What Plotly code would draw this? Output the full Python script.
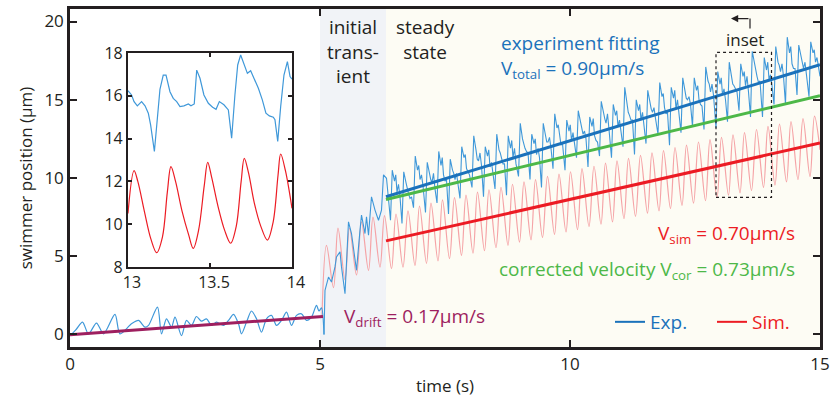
import plotly.graph_objects as go

# ---------------- data ----------------
# experiment, drift phase (0-5 s)
drift_t = [0.00, 0.03, 0.13, 0.25, 0.37, 0.53, 0.67, 0.90, 1.00, 1.23, 1.37, 1.50, 1.57, 1.75, 1.83,
           1.93, 2.03, 2.10, 2.23, 2.33, 2.43, 2.53, 2.63, 2.73, 2.83, 2.93, 3.07, 3.17, 3.27, 3.37,
           3.43, 3.53, 3.63, 3.73, 3.83, 3.93, 4.03, 4.13, 4.23, 4.33, 4.43, 4.53, 4.63, 4.73, 4.83,
           4.93, 4.98, 5.03, 5.08]
drift_v = [0.05, 0.04, 0.35, 0.79, 0.04, 0.73, 0.04, 1.28, 0.04, 0.68, 0.90, 0.47, 0.58, 1.75, 0.04,
           1.00, 0.47, 1.11, -0.07, 0.90, 0.58, 1.15, 0.85, 1.00, 0.58, 0.79, 0.58, 0.90, 1.28, 0.68,
           0.04, 0.79, 1.50, 1.00, 0.15, 1.00, 1.22, 0.58, 0.90, 1.43, 0.58, 1.22, 1.32, 0.90, 1.11,
           1.86, 1.50, 1.70, 0.00]

# experiment, transient + steady state
exp_t = [5.08, 5.10, 5.17, 5.23, 5.30, 5.33, 5.40, 5.43, 5.50, 5.57, 5.63, 5.70, 5.73, 5.80, 5.83,
         5.90, 5.93, 5.97, 6.03, 6.10, 6.17, 6.23, 6.27, 6.33,
         6.41, 6.445, 6.49, 6.515, 6.54, 6.57, 6.60,
         6.64, 6.675, 6.72, 6.745, 6.77, 6.80, 6.83,
         6.87, 6.905, 6.95, 6.975, 7.00, 7.03, 7.06,
         7.11, 7.145, 7.19, 7.215, 7.24, 7.27, 7.30,
         7.34, 7.375, 7.42, 7.445, 7.47, 7.50, 7.53,
         7.57, 7.605, 7.65, 7.675, 7.70, 7.73, 7.76,
         7.80, 7.835, 7.88, 7.905, 7.93, 7.96, 7.99,
         8.04, 8.075, 8.12, 8.145, 8.17, 8.20, 8.23,
         8.27, 8.305, 8.35, 8.375, 8.40, 8.43, 8.46,
         8.50, 8.535, 8.58, 8.605, 8.63, 8.66, 8.69,
         8.73, 8.765, 8.81, 8.835, 8.86, 8.89, 8.92,
         8.97, 9.005, 9.05, 9.075, 9.10, 9.13, 9.16,
         9.20, 9.235, 9.28, 9.305, 9.33, 9.36, 9.39,
         9.43, 9.465, 9.51, 9.535, 9.56, 9.59, 9.62,
         9.66, 9.695, 9.74, 9.765, 9.79, 9.82, 9.85,
         9.90, 9.935, 9.98, 10.005, 10.03, 10.06, 10.09,
         10.13, 10.165, 10.21, 10.235, 10.26, 10.29, 10.32,
         10.36, 10.395, 10.44, 10.465, 10.49, 10.52, 10.55,
         10.59, 10.625, 10.67, 10.695, 10.72, 10.75, 10.78,
         10.83, 10.865, 10.91, 10.935, 10.96, 10.99, 11.02,
         11.06, 11.095, 11.14, 11.165, 11.19, 11.22, 11.25,
         11.29, 11.325, 11.37, 11.395, 11.42, 11.45, 11.48,
         11.52, 11.555, 11.60, 11.625, 11.65, 11.68, 11.71,
         11.76, 11.795, 11.84, 11.865, 11.89, 11.92, 11.95,
         11.99, 12.025, 12.07, 12.095, 12.12, 12.15, 12.18,
         12.22, 12.255, 12.30, 12.325, 12.35, 12.38, 12.41,
         12.45, 12.485, 12.53, 12.555, 12.58, 12.61, 12.64,
         12.68, 12.715, 12.76, 12.785, 12.81, 12.84, 12.87,
         12.92, 12.955, 13.00, 13.025, 13.05, 13.08, 13.11,
         13.15, 13.185, 13.23, 13.255, 13.28, 13.31, 13.34,
         13.38, 13.415, 13.46, 13.485, 13.51, 13.54, 13.57,
         13.61, 13.645, 13.69, 13.715, 13.74, 13.77, 13.80,
         13.85, 13.885, 13.93, 13.955, 13.98, 14.01, 14.04,
         14.08, 14.115, 14.16, 14.185, 14.21, 14.24, 14.27,
         14.31, 14.345, 14.39, 14.415, 14.44, 14.47, 14.50,
         14.54, 14.575, 14.62, 14.645, 14.67, 14.70, 14.73,
         14.78, 14.815, 14.86, 14.885, 14.91, 14.94, 14.97,
         15.00]
exp_v = [0.00, 2.82, 3.67, 3.35, 4.32, 4.96, 5.28, 4.32, 2.60, 7.20, 6.45, 4.96, 4.10, 6.67, 7.63,
         6.45, 7.52, 6.35, 8.80, 7.95, 7.30, 7.95, 10.20, 9.98,
         7.3, 10.5, 9.8, 10.2, 9.1, 9.6, 8.8,
         7.1, 10.4, 9.7, 9.2, 9.0, 8.7, 8.8,
         8.1, 11.4, 10.5, 10.8, 9.9, 10.2, 9.5,
         7.8, 11.0, 10.2, 9.9, 9.7, 10.3, 9.3,
         8.4, 11.7, 10.8, 11.3, 10.2, 9.8, 9.9,
         7.7, 11.2, 10.5, 10.3, 9.9, 10.3, 9.6,
         8.7, 12.0, 11.3, 11.5, 10.6, 10.4, 10.2,
         9.4, 12.7, 11.8, 11.2, 11.1, 11.6, 10.8,
         8.8, 12.0, 11.4, 11.8, 10.7, 11.0, 10.4,
         9.3, 12.8, 11.8, 11.6, 11.3, 10.9, 10.9,
         8.9, 12.7, 11.9, 12.4, 11.3, 11.9, 10.9,
         10.1, 13.5, 12.5, 12.1, 11.9, 11.7, 11.6,
         9.9, 12.8, 12.2, 12.5, 11.5, 11.9, 11.3,
         9.4, 13.5, 12.8, 12.3, 12.3, 12.6, 11.9,
         10.6, 14.1, 13.2, 13.4, 12.6, 12.1, 12.2,
         10.5, 13.7, 13.0, 13.4, 12.4, 12.9, 12.1,
         11.3, 14.3, 13.5, 13.2, 12.8, 13.0, 12.5,
         10.7, 13.9, 13.3, 13.8, 12.7, 12.4, 12.3,
         11.4, 14.9, 14.0, 13.8, 13.5, 14.1, 13.1,
         11.3, 14.7, 14.0, 14.3, 13.3, 13.7, 13.1,
         12.0, 15.8, 14.7, 14.2, 14.0, 13.7, 13.7,
         11.5, 15.0, 14.3, 14.7, 13.7, 14.2, 13.3,
         12.2, 15.6, 14.7, 14.4, 14.2, 14.5, 13.8,
         12.8, 16.1, 15.2, 15.4, 14.5, 14.1, 14.2,
         12.1, 15.8, 15.1, 15.6, 14.4, 15.0, 14.1,
         12.9, 16.4, 15.5, 15.1, 15.0, 15.2, 14.7,
         13.3, 16.4, 15.6, 15.9, 15.0, 14.7, 14.6,
         13.1, 17.1, 16.2, 16.0, 15.5, 16.0, 15.3,
         13.2, 16.8, 16.0, 16.4, 15.3, 15.7, 15.0,
         13.6, 17.4, 16.5, 16.0, 15.9, 15.7, 15.5,
         14.3, 17.3, 16.5, 16.8, 15.9, 16.5, 15.5,
         13.9, 18.1, 17.2, 16.9, 16.5, 16.1, 16.2,
         13.9, 17.7, 16.9, 17.4, 16.3, 16.6, 15.9,
         14.7, 18.4, 17.4, 17.2, 16.8, 17.3, 16.5,
         14.7, 19.0, 18.0, 18.4, 17.3, 17.0, 17.0,
         15.3, 18.5, 17.7, 17.3, 17.0, 17.4, 16.7,
         15.2, 18.7, 18.0, 18.2, 17.4, 17.7, 17.0,
         16.5]

# simulation (peaks and troughs)
sim_t = [5.04, 5.13, 5.27, 5.36, 5.50, 5.59, 5.73, 5.83, 5.97, 6.06, 6.20, 6.29, 6.43, 6.52, 6.66,
         6.76, 6.90, 6.99, 7.13, 7.22, 7.36, 7.45, 7.59, 7.69, 7.83, 7.92, 8.06, 8.15, 8.29, 8.38,
         8.52, 8.62, 8.76, 8.85, 8.99, 9.08, 9.22, 9.31, 9.45, 9.55, 9.69, 9.78, 9.92, 10.01, 10.15,
         10.24, 10.38, 10.48, 10.62, 10.71, 10.85, 10.94, 11.08, 11.17, 11.31, 11.41, 11.55, 11.64,
         11.78, 11.87, 12.01, 12.10, 12.24, 12.33, 12.47, 12.57, 12.71, 12.80, 12.94, 13.03, 13.17,
         13.26, 13.40, 13.49, 13.63, 13.73, 13.87, 13.96, 14.10, 14.19, 14.33, 14.42, 14.56, 14.66,
         14.80, 14.89, 15.00]
sim_v = [1.2, 5.7, 3.0, 6.8, 3.5, 6.8, 3.8, 7.2, 4.1, 7.5, 4.3, 7.6, 4.2, 7.7, 4.3,
         7.9, 4.4, 8.2, 4.55, 8.4, 4.7, 8.6, 4.85, 8.75, 5.05, 8.9, 5.2, 9.1, 5.35, 9.25,
         5.55, 9.4, 5.7, 9.6, 5.9, 9.75, 6.05, 9.9, 6.2, 10.1, 6.4, 10.25, 6.55, 10.4, 6.7,
         10.6, 6.9, 10.75, 7.05, 10.95, 7.2, 11.1, 7.4, 11.25, 7.55, 11.45, 7.75, 11.6,
         7.9, 11.75, 8.05, 11.95, 8.25, 12.1, 8.4, 12.3, 8.55, 12.45, 8.75, 12.6, 8.9,
         12.75, 9.05, 12.9, 9.2, 13.1, 9.4, 13.3, 9.55, 13.45, 9.75, 13.6, 9.9, 13.8,
         10.1, 13.95, 11.8]

# fitted lines (end points)
fit_drift_t = [0.0, 5.06]
fit_drift_v = [-0.02, 1.15]
fit_total_t = [6.32, 15.0]
fit_total_v = [8.80, 17.24]
fit_cor_t = [6.32, 15.0]
fit_cor_v = [8.63, 15.26]
fit_sim_t = [6.32, 15.0]
fit_sim_v = [5.98, 12.24]

# inset (13-14 s)
inset_exp_t = [13.000, 13.022, 13.037, 13.057, 13.083, 13.104, 13.124, 13.138, 13.161, 13.175,
               13.195, 13.215, 13.232, 13.256, 13.276, 13.297, 13.317, 13.341, 13.368, 13.384,
               13.404, 13.419, 13.439, 13.463, 13.490, 13.516, 13.537, 13.557, 13.585, 13.612,
               13.632, 13.652, 13.669, 13.687, 13.707, 13.728, 13.748, 13.770, 13.795, 13.819,
               13.841, 13.862, 13.886, 13.896, 13.913, 13.931, 13.951, 13.972, 13.988, 14.000]
inset_exp_v = [16.24, 16.04, 15.73, 15.53, 15.73, 15.53, 15.19, 14.64, 13.40, 14.72,
               16.30, 16.97, 16.97, 16.19, 15.88, 15.73, 15.50, 15.53, 15.62, 15.53,
               15.62, 17.20, 16.82, 16.04, 15.65, 15.47, 15.37, 15.73, 15.58, 15.34,
               14.02, 16.04, 17.44, 17.91, 17.44, 17.05, 17.17, 16.82, 16.35, 15.81,
               15.19, 15.06, 15.00, 14.88, 13.87, 15.50, 16.97, 17.60, 16.90, 16.78]
inset_sim_t = [13.000, 13.037, 13.060, 13.100, 13.140, 13.175, 13.210, 13.240, 13.262, 13.290,
               13.330, 13.370, 13.398, 13.430, 13.465, 13.486, 13.510, 13.550, 13.590, 13.626,
               13.660, 13.690, 13.709, 13.735, 13.770, 13.810, 13.850, 13.885, 13.915, 13.931,
               13.960, 14.000]
inset_sim_v = [10.5, 12.5, 12.0, 10.6, 9.3, 8.67, 9.4, 11.5, 12.69, 12.0,
               10.6, 9.5, 8.87, 9.7, 11.8, 12.89, 12.2, 10.8, 9.7, 9.11,
               9.9, 12.0, 13.08, 12.4, 11.0, 9.9, 9.26, 10.1, 12.3, 13.28,
               12.5, 10.74]

x_ticks = [0, 5, 10, 15]
y_ticks = [0, 5, 10, 15, 20]
inset_x_ticks = [13, 13.5, 14]
inset_y_ticks = [8, 10, 12, 14, 16, 18]

# ---------------- styling ----------------
FONT = "Open Sans"
BLACK = "#231f20"
C_EXP = "#3f98d9"
C_SIMP = "#f5a3a6"
C_BLUE = "#1b72bb"
C_GREEN = "#4db848"
C_RED = "#ec1c24"
C_DRIFT = "#9e1f5f"

fig = go.Figure()

fig.add_trace(go.Scatter(x=sim_t, y=sim_v, mode="lines", line=dict(color=C_SIMP, width=1.2, shape="spline", smoothing=1.0),
                         showlegend=False, hoverinfo="skip"))
fig.add_trace(go.Scatter(x=drift_t, y=drift_v, mode="lines", line=dict(color=C_EXP, width=1.2, shape="spline", smoothing=0.8),
                         showlegend=False, hoverinfo="skip"))
fig.add_trace(go.Scatter(x=exp_t, y=exp_v, mode="lines", line=dict(color=C_EXP, width=1.1),
                         showlegend=False, hoverinfo="skip"))
fig.add_trace(go.Scatter(x=fit_drift_t, y=fit_drift_v, mode="lines", line=dict(color=C_DRIFT, width=3), showlegend=False))
fig.add_trace(go.Scatter(x=fit_total_t, y=fit_total_v, mode="lines", line=dict(color=C_BLUE, width=3), showlegend=False))
fig.add_trace(go.Scatter(x=fit_cor_t, y=fit_cor_v, mode="lines", line=dict(color=C_GREEN, width=3), showlegend=False))
fig.add_trace(go.Scatter(x=fit_sim_t, y=fit_sim_v, mode="lines", line=dict(color=C_RED, width=3), showlegend=False))

# legend entries
fig.add_trace(go.Scatter(x=[None], y=[None], mode="lines", line=dict(color=C_BLUE, width=2),
                         name=f'<span style="color:{C_BLUE}">Exp.</span>'))
fig.add_trace(go.Scatter(x=[None], y=[None], mode="lines", line=dict(color=C_RED, width=2),
                         name=f'<span style="color:{C_RED}">Sim.</span>'))

# inset traces
fig.add_trace(go.Scatter(x=inset_exp_t, y=inset_exp_v, xaxis="x2", yaxis="y2", mode="lines",
                         line=dict(color=C_EXP, width=1.2), showlegend=False))
fig.add_trace(go.Scatter(x=inset_sim_t, y=inset_sim_v, xaxis="x2", yaxis="y2", mode="lines",
                         line=dict(color=C_RED, width=1.2, shape="spline", smoothing=1.0), showlegend=False))

axis_common = dict(showline=True, linecolor=BLACK, linewidth=2.5, mirror="ticks", ticks="inside",
                   tickcolor=BLACK, tickwidth=2, ticklen=7, showgrid=False, zeroline=False, automargin=False,
                   tickfont=dict(family=FONT, size=17, color=BLACK))

fig.update_layout(
    width=831, height=401,
    margin=dict(l=70, r=11, t=9, b=54, autoexpand=False),
    paper_bgcolor="white", plot_bgcolor="white",
    font=dict(family=FONT, color=BLACK),
    xaxis=dict(range=[0, 15], tickvals=x_ticks, title=dict(text="time (s)", font=dict(family=FONT, size=17), standoff=6),
               **axis_common),
    yaxis=dict(range=[-0.8, 20.8], tickvals=y_ticks, title=dict(text="swimmer position (μm)", font=dict(family=FONT, size=17), standoff=8),
               **axis_common),
    xaxis2=dict(domain=[0.0773, 0.296], anchor="y2", range=[13, 14], tickvals=inset_x_ticks,
                ticktext=["13", "13.5", "14"], automargin=False, ticklabelshift=4,
                showline=True, linecolor=BLACK, linewidth=2, mirror="ticks", ticks="inside", tickcolor=BLACK,
                tickwidth=1.5, ticklen=4, showgrid=False, zeroline=False,
                tickfont=dict(family=FONT, size=16, color=BLACK)),
    yaxis2=dict(domain=[0.2367, 0.8698], anchor="x2", range=[8, 18], tickvals=inset_y_ticks, automargin=False,
                showline=True, linecolor=BLACK, linewidth=2, mirror="ticks", ticks="inside", tickcolor=BLACK,
                tickwidth=1.5, ticklen=4, showgrid=False, zeroline=False,
                tickfont=dict(family=FONT, size=16, color=BLACK)),
    legend=dict(orientation="h", x=0.72, xanchor="left", y=0.074, yanchor="middle",
                bgcolor="rgba(0,0,0,0)", font=dict(family=FONT, size=19), itemwidth=30,
                entrywidth=57, entrywidthmode="pixels", tracegroupgap=0),
)

# shaded regions
fig.add_shape(type="rect", xref="x", yref="paper", x0=5.0, x1=6.32, y0=0, y1=1,
              fillcolor="#f1f3f7", line=dict(width=0), layer="below")
fig.add_shape(type="rect", xref="x", yref="paper", x0=6.32, x1=15, y0=0, y1=1,
              fillcolor="#fdfcf4", line=dict(width=0), layer="below")
# dotted inset box
fig.add_shape(type="rect", xref="x", yref="y", x0=12.92, x1=14.03, y0=8.76, y1=18.03,
              line=dict(color=BLACK, width=1.2, dash="dot"))
# bracket arrow
fig.add_shape(type="line", xref="x", yref="y", x0=13.6, x1=13.6, y0=19.55, y1=20.19,
              line=dict(color=BLACK, width=1.2))
fig.add_annotation(x=13.22, y=20.19, ax=13.6, ay=20.19, axref="x", ayref="y", xref="x", yref="y",
                   text="", showarrow=True, arrowhead=2, arrowsize=1.2, arrowwidth=1.2, arrowcolor=BLACK)

def txt(x, y, s, color, xanchor="center", yanchor="middle", size=19, align="center", xref="x", yref="y"):
    fig.add_annotation(x=x, y=y, xref=xref, yref=yref, text=s, showarrow=False, xanchor=xanchor, yanchor=yanchor,
                       align=align, font=dict(family=FONT, size=size, color=color))

txt(5.66, 20.6, "initial<br>trans-<br>ient", BLACK, yanchor="top")
txt(7.1, 20.6, "steady<br>state", BLACK, yanchor="top")
txt(8.58, 18.65, "experiment fitting", C_BLUE, xanchor="left", align="left")
txt(8.58, 16.95, "V<sub>total</sub> = 0.90μm/s", C_BLUE, xanchor="left", align="left")
txt(14.54, 6.4, "V<sub>sim</sub> = 0.70μm/s", C_RED, xanchor="right", align="right")
txt(14.54, 4.1, "corrected velocity V<sub>cor</sub> = 0.73μm/s", C_GREEN, xanchor="right", align="right")
txt(5.44, 1.1, "V<sub>drift</sub> = 0.17μm/s", C_DRIFT, xanchor="left", align="left")
txt(13.5, 18.85, "inset", BLACK, size=17)
txt(13.97, 18.5, "inset", BLACK, xanchor="right", size=17, xref="x2", yref="y2")

fig.write_html("out.html")
